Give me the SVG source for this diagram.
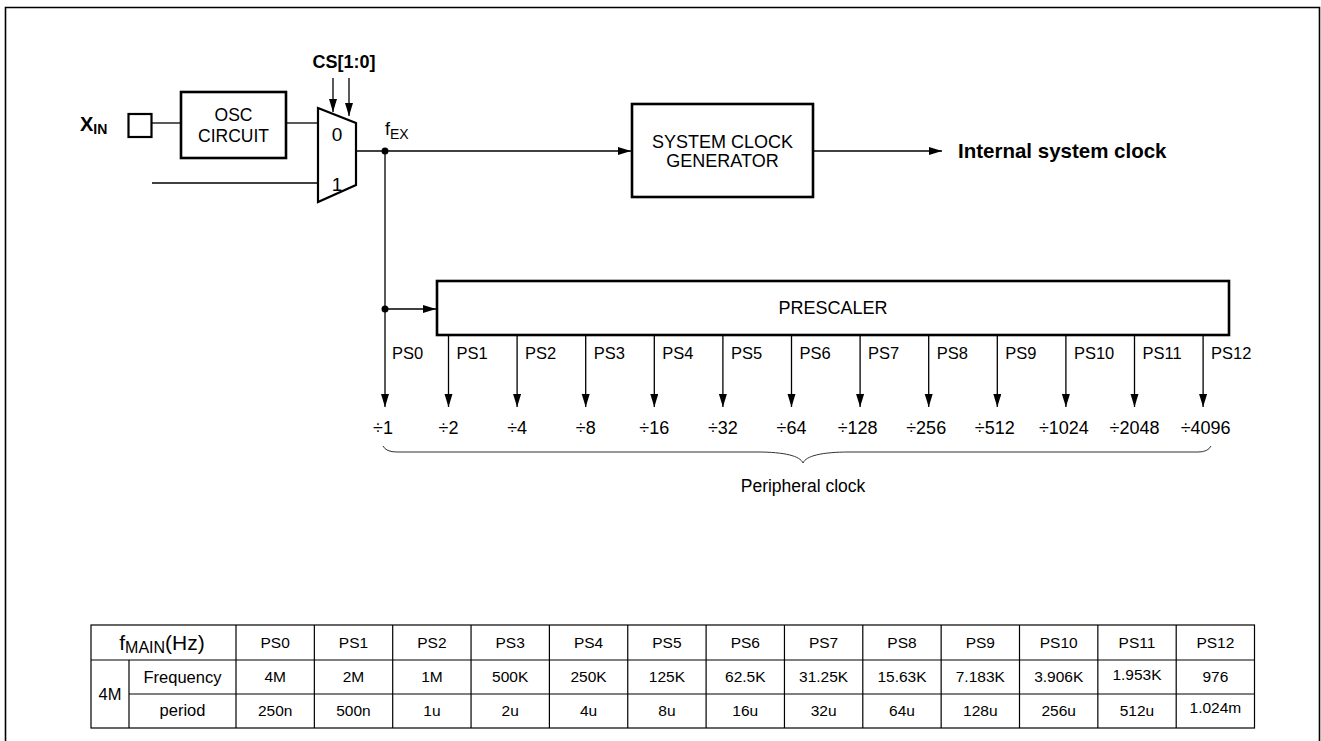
<svg xmlns="http://www.w3.org/2000/svg" width="1321" height="741" viewBox="0 0 1321 741">
<style>
  .ln{stroke:#000;stroke-width:1.3;fill:none}
  .box{stroke:#000;stroke-width:2.6;fill:#fff}
  .t{font-family:"Liberation Sans",Arial,sans-serif;fill:#000}
  .lbl{font-size:17.5px;text-anchor:middle}
  .ps{font-size:16.5px}
  .dv{font-size:18px;text-anchor:middle}
  .tb{font-size:15.5px;text-anchor:middle}
  .tc{font-size:16.5px;text-anchor:middle}
  .b{font-weight:bold}
  .grid{stroke:#000;stroke-width:1.2;fill:none}
</style>
<defs>
  <marker id="ah" markerUnits="userSpaceOnUse" markerWidth="14" markerHeight="10" refX="13" refY="4" orient="auto">
    <path d="M0,0 L13,4 L0,8 Z" fill="#000"/>
  </marker>
</defs>

<g id="frame">
  <path d="M5.5,741 L5.5,7.5 L1319.5,7.5 L1319.5,741" stroke="#000" stroke-width="1.6" fill="none"/>
</g>

<g id="xin">
  <text class="t b" x="80" y="131" font-size="20">X<tspan font-size="14" dy="3">IN</tspan></text>
  <rect x="128.5" y="114" width="23" height="23" fill="#fff" stroke="#000" stroke-width="2.2"/>
</g>

<g id="osc">
  <rect class="box" x="181" y="92" width="105" height="66"/>
  <text class="t lbl" x="233.5" y="121">OSC</text>
  <text class="t lbl" x="233.5" y="142">CIRCUIT</text>
</g>

<g id="mux">
  <path d="M318,108 L356,123 L356,185 L318,202 Z" fill="#fff" stroke="#000" stroke-width="2.2"/>
  <text class="t" x="337" y="141" font-size="19" text-anchor="middle">0</text>
  <text class="t" x="337" y="191" font-size="19" text-anchor="middle">1</text>
  <text class="t b" x="344" y="68" font-size="18" text-anchor="middle">CS[1:0]</text>
</g>

<g id="syscg">
  <rect class="box" x="632" y="104" width="181" height="93"/>
  <text class="t" x="722.5" y="148" font-size="18" text-anchor="middle">SYSTEM CLOCK</text>
  <text class="t" x="722.5" y="167" font-size="18" text-anchor="middle">GENERATOR</text>
</g>

<g id="prescaler">
  <rect class="box" x="437" y="281" width="792" height="54"/>
  <text class="t" x="833" y="314" font-size="18" text-anchor="middle">PRESCALER</text>
</g>

<g id="labels">
  <text class="t" x="385" y="135" font-size="18">f<tspan font-size="14" dy="4">EX</tspan></text>
  <text class="t b" x="958" y="158" font-size="20.5">Internal system clock</text>
  <text class="t ps" x="392" y="359">PS0</text>
  <text class="t ps" x="456.5" y="359">PS1</text>
  <text class="t ps" x="525.1" y="359">PS2</text>
  <text class="t ps" x="593.7" y="359">PS3</text>
  <text class="t ps" x="662.3" y="359">PS4</text>
  <text class="t ps" x="730.9" y="359">PS5</text>
  <text class="t ps" x="799.5" y="359">PS6</text>
  <text class="t ps" x="868.1" y="359">PS7</text>
  <text class="t ps" x="936.7" y="359">PS8</text>
  <text class="t ps" x="1005.3" y="359">PS9</text>
  <text class="t ps" x="1073.9" y="359">PS10</text>
  <text class="t ps" x="1142.5" y="359">PS11</text>
  <text class="t ps" x="1211.1" y="359">PS12</text>
  <text class="t dv" x="383" y="434">÷1</text>
  <text class="t dv" x="448.5" y="434">÷2</text>
  <text class="t dv" x="517.1" y="434">÷4</text>
  <text class="t dv" x="585.7" y="434">÷8</text>
  <text class="t dv" x="654.3" y="434">÷16</text>
  <text class="t dv" x="722.9" y="434">÷32</text>
  <text class="t dv" x="791.5" y="434">÷64</text>
  <text class="t dv" x="857.6" y="434">÷128</text>
  <text class="t dv" x="926.2" y="434">÷256</text>
  <text class="t dv" x="994.8" y="434">÷512</text>
  <text class="t dv" x="1063.9" y="434">÷1024</text>
  <text class="t dv" x="1134.5" y="434">÷2048</text>
  <text class="t dv" x="1205.6" y="434">÷4096</text>
  <text class="t" x="803" y="492" font-size="17.5" text-anchor="middle">Peripheral clock</text>
</g>

<g id="connectors">
  <line class="ln" x1="151.5" y1="123" x2="181" y2="123"/>
  <line class="ln" x1="286" y1="123" x2="318" y2="123"/>
  <line class="ln" x1="152" y1="183" x2="318" y2="183"/>
  <line class="ln" x1="333" y1="78" x2="333" y2="112" marker-end="url(#ah)"/>
  <line class="ln" x1="349" y1="78" x2="349" y2="116" marker-end="url(#ah)"/>
  <line class="ln" x1="356" y1="151" x2="631" y2="151" marker-end="url(#ah)"/>
  <line class="ln" x1="813" y1="151" x2="942" y2="151" marker-end="url(#ah)"/>
  <circle cx="385" cy="151" r="3.5" fill="#000"/>
  <line class="ln" x1="385" y1="151" x2="385" y2="407" marker-end="url(#ah)"/>
  <circle cx="385" cy="309" r="3.5" fill="#000"/>
  <line class="ln" x1="385" y1="309" x2="436" y2="309" marker-end="url(#ah)"/>
  <line class="ln" x1="448.5" y1="335" x2="448.5" y2="407" marker-end="url(#ah)"/>
  <line class="ln" x1="517.1" y1="335" x2="517.1" y2="407" marker-end="url(#ah)"/>
  <line class="ln" x1="585.7" y1="335" x2="585.7" y2="407" marker-end="url(#ah)"/>
  <line class="ln" x1="654.3" y1="335" x2="654.3" y2="407" marker-end="url(#ah)"/>
  <line class="ln" x1="722.9" y1="335" x2="722.9" y2="407" marker-end="url(#ah)"/>
  <line class="ln" x1="791.5" y1="335" x2="791.5" y2="407" marker-end="url(#ah)"/>
  <line class="ln" x1="860.1" y1="335" x2="860.1" y2="407" marker-end="url(#ah)"/>
  <line class="ln" x1="928.7" y1="335" x2="928.7" y2="407" marker-end="url(#ah)"/>
  <line class="ln" x1="997.3" y1="335" x2="997.3" y2="407" marker-end="url(#ah)"/>
  <line class="ln" x1="1065.9" y1="335" x2="1065.9" y2="407" marker-end="url(#ah)"/>
  <line class="ln" x1="1134.5" y1="335" x2="1134.5" y2="407" marker-end="url(#ah)"/>
  <line class="ln" x1="1203.1" y1="335" x2="1203.1" y2="407" marker-end="url(#ah)"/>
  <path d="M383,446 Q386,452 397,452 L757,452 C785,452 800,456 803,463 C806,456 821,452 850,452 L1198,452 Q1208,452 1211,446" stroke="#333" stroke-width="1" fill="none"/>
</g>

<g id="table">
  <rect class="grid" x="91" y="625" width="1163.5" height="103"/>
  <line class="grid" x1="91" y1="660" x2="1254.5" y2="660"/>
  <line class="grid" x1="129" y1="694" x2="1254.5" y2="694"/>
  <line class="grid" x1="129" y1="660" x2="129" y2="728"/>
  <line class="grid" x1="236" y1="625" x2="236" y2="728"/>
  <line class="grid" x1="314.35" y1="625" x2="314.35" y2="728"/>
  <line class="grid" x1="392.7" y1="625" x2="392.7" y2="728"/>
  <line class="grid" x1="471.05" y1="625" x2="471.05" y2="728"/>
  <line class="grid" x1="549.4" y1="625" x2="549.4" y2="728"/>
  <line class="grid" x1="627.75" y1="625" x2="627.75" y2="728"/>
  <line class="grid" x1="706.1" y1="625" x2="706.1" y2="728"/>
  <line class="grid" x1="784.45" y1="625" x2="784.45" y2="728"/>
  <line class="grid" x1="862.8" y1="625" x2="862.8" y2="728"/>
  <line class="grid" x1="941.15" y1="625" x2="941.15" y2="728"/>
  <line class="grid" x1="1019.5" y1="625" x2="1019.5" y2="728"/>
  <line class="grid" x1="1097.85" y1="625" x2="1097.85" y2="728"/>
  <line class="grid" x1="1176.2" y1="625" x2="1176.2" y2="728"/>
  <text class="t" x="162" y="650" font-size="21" text-anchor="middle">f<tspan font-size="16" dy="3">MAIN</tspan><tspan dy="-3">(Hz)</tspan></text>
  <text class="t tc" x="110" y="700">4M</text>
  <text class="t tc" x="182.5" y="683">Frequency</text>
  <text class="t tc" x="182.5" y="716">period</text>
  <g class="t tb">
    <text x="275.2" y="648">PS0</text><text x="353.5" y="648">PS1</text><text x="431.9" y="648">PS2</text><text x="510.2" y="648">PS3</text><text x="588.6" y="648">PS4</text><text x="666.9" y="648">PS5</text><text x="745.3" y="648">PS6</text><text x="823.6" y="648">PS7</text><text x="902" y="648">PS8</text><text x="980.3" y="648">PS9</text><text x="1058.7" y="648">PS10</text><text x="1137" y="648">PS11</text><text x="1215.4" y="648">PS12</text>
    <text x="275.2" y="682">4M</text><text x="353.5" y="682">2M</text><text x="431.9" y="682">1M</text><text x="510.2" y="682">500K</text><text x="588.6" y="682">250K</text><text x="666.9" y="682">125K</text><text x="745.3" y="682">62.5K</text><text x="823.6" y="682">31.25K</text><text x="902" y="682">15.63K</text><text x="980.3" y="682">7.183K</text><text x="1058.7" y="682">3.906K</text><text x="1137" y="680">1.953K</text><text x="1215.4" y="682">976</text>
    <text x="275.2" y="716">250n</text><text x="353.5" y="716">500n</text><text x="431.9" y="716">1u</text><text x="510.2" y="716">2u</text><text x="588.6" y="716">4u</text><text x="666.9" y="716">8u</text><text x="745.3" y="716">16u</text><text x="823.6" y="716">32u</text><text x="902" y="716">64u</text><text x="980.3" y="716">128u</text><text x="1058.7" y="716">256u</text><text x="1137" y="716">512u</text><text x="1215.4" y="713">1.024m</text>
  </g>
</g>
</svg>
